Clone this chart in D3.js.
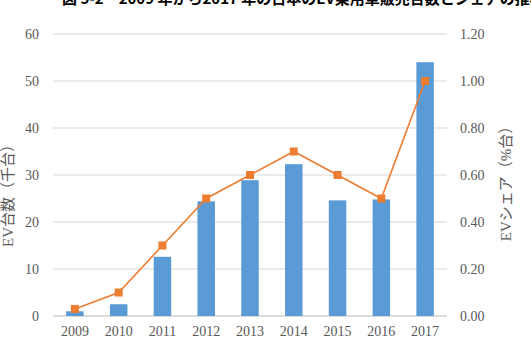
<!DOCTYPE html>
<html>
<head>
<meta charset="utf-8">
<script src="https://cdn.jsdelivr.net/npm/d3@7"></script>
<style>
  body { margin: 0; background: #fff; }
  text { font-family: "Liberation Serif", "Noto Sans CJK JP", serif; }
</style>
</head>
<body>
<div id="chart-area"></div>
<script>
// data
var years = ["2009", "2010", "2011", "2012", "2013", "2014", "2015", "2016", "2017"];
var evUnits = [1.0, 2.5, 12.6, 24.4, 28.9, 32.3, 24.6, 24.8, 54.0];   // 千台
var evShare = [0.03, 0.10, 0.30, 0.50, 0.60, 0.70, 0.60, 0.50, 1.00]; // %
var leftTicks = [0, 10, 20, 30, 40, 50, 60];
var rightTicks = [0, 0.2, 0.4, 0.6, 0.8, 1.0, 1.2];

var W = 531, H = 348;
var margin = { left: 53, right: 84, top: 34, bottom: 32 };
var width = W - margin.left - margin.right,
    height = H - margin.top - margin.bottom;

var svg = d3.select("#chart-area")
    .append("svg")
        .attr("width", W)
        .attr("height", H);

// title (clipped at top in the original)
svg.append("text")
    .attr("x", 62)
    .attr("y", 3.5)
    .attr("font-size", "15px")
    .attr("font-weight", "bold")
    .attr("fill", "#000")
    .style("font-family", "'Noto Sans CJK JP', sans-serif")
    .text("図 5-2　2009 年から2017 年の日本のEV乗用車販売台数とシェアの推移");

var g = svg.append("g")
    .attr("transform", "translate(" + margin.left + "," + margin.top + ")");

var x = d3.scaleBand()
    .domain(years)
    .range([0, width])
    .paddingInner(0.6)
    .paddingOuter(0.3);

var y = d3.scaleLinear().domain([0, 60]).range([height, 0]);
var y2 = d3.scaleLinear().domain([0, 1.2]).range([height, 0]);

// gridlines
g.selectAll(".grid")
    .data(leftTicks)
    .enter().append("line")
        .attr("x1", 0)
        .attr("x2", width)
        .attr("y1", function(d){ return y(d); })
        .attr("y2", function(d){ return y(d); })
        .attr("stroke", function(d){ return d === 0 ? "#d0d0d0" : "#e4e4e4"; })
        .attr("stroke-width", 1.3);

// left axis
var yAxisCall = d3.axisLeft(y).tickValues(leftTicks).tickSize(0).tickPadding(14);
var yAxisGroup = g.append("g").call(yAxisCall);

// right axis
var y2AxisCall = d3.axisRight(y2).tickValues(rightTicks).tickSize(0).tickPadding(13)
    .tickFormat(d3.format(".2f"));
var y2AxisGroup = g.append("g")
    .attr("transform", "translate(" + width + ",0)")
    .call(y2AxisCall);

// x axis
var xAxisCall = d3.axisBottom(x).tickSize(0).tickPadding(10);
var xAxisGroup = g.append("g")
    .attr("transform", "translate(0," + height + ")")
    .call(xAxisCall);

[yAxisGroup, y2AxisGroup, xAxisGroup].forEach(function(a){
    a.select(".domain").remove();
    a.selectAll("text")
        .attr("fill", "#595959")
        .attr("font-size", "14px")
        .style("font-family", "'Liberation Serif', serif");
});

// bars
g.selectAll("rect")
    .data(years)
    .enter().append("rect")
        .attr("x", function(d){ return x(d); })
        .attr("y", function(d, i){ return y(evUnits[i]); })
        .attr("width", x.bandwidth())
        .attr("height", function(d, i){ return height - y(evUnits[i]); })
        .attr("fill", "#5B9BD5");

// share line
var line = d3.line()
    .x(function(d, i){ return x(years[i]) + x.bandwidth() / 2; })
    .y(function(d){ return y2(d); });

g.append("path")
    .datum(evShare)
    .attr("d", line)
    .attr("fill", "none")
    .attr("stroke", "#ED7D31")
    .attr("stroke-width", 1.6);

g.selectAll(".marker")
    .data(evShare)
    .enter().append("rect")
        .attr("class", "marker")
        .attr("x", function(d, i){ return x(years[i]) + x.bandwidth() / 2 - 4; })
        .attr("y", function(d){ return y2(d) - 4; })
        .attr("width", 8)
        .attr("height", 8)
        .attr("fill", "#ED7D31");

// Y labels
svg.append("text")
    .attr("transform", "translate(13,192) rotate(-90)")
    .attr("text-anchor", "middle")
    .attr("font-size", "15px")
    .attr("fill", "#595959")
    .text("EV台数（千台）");

svg.append("text")
    .attr("transform", "translate(511,180) rotate(-90)")
    .attr("text-anchor", "middle")
    .attr("font-size", "15px")
    .attr("fill", "#595959")
    .text("EVシェア（%台）");
</script>
</body>
</html>
